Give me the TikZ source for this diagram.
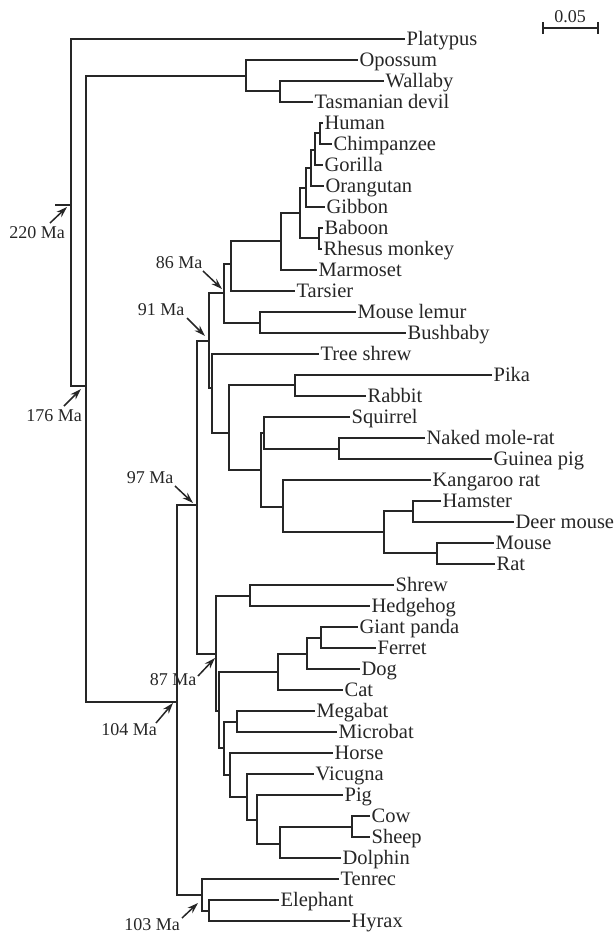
\documentclass[tikz,border=0pt]{standalone}
\usepackage{fontspec}
\setmainfont{Liberation Serif}
\usepackage{tikz}
\usetikzlibrary{arrows.meta}
\definecolor{ink}{HTML}{262626}
\tikzstyle{leaf} = [anchor=west, inner xsep=0.6pt, inner ysep=0pt,
    text height=0.8em, text depth=0.15em, text=ink,
    font=\fontsize{10.25}{12}\selectfont]
\tikzstyle{branch} = [draw, ink, line width=1pt]
\tikzstyle{agelabel} = [inner sep=0pt, text=ink, font=\fontsize{9}{11}\selectfont]
\tikzstyle{pointer} = [draw, ink, line width=0.75pt, -{Stealth[length=5.5pt, width=3.6pt]}]

\begin{document}
\begin{tikzpicture}[x=0.5pt, y=-0.5pt]
    \useasboundingbox (0,0) rectangle (614,932);
    % Place leaves
    \node [leaf] (platypus) at (405,39) {Platypus};
    \node [leaf] (opossum) at (358,60) {Opossum};
    \node [leaf] (wallaby) at (384,81) {Wallaby};
    \node [leaf] (tasdevil) at (313,102) {Tasmanian devil};
    \node [leaf] (human) at (323,123) {Human};
    \node [leaf] (chimp) at (332,144) {Chimpanzee};
    \node [leaf] (gorilla) at (323,165) {Gorilla};
    \node [leaf] (orangutan) at (324,186) {Orangutan};
    \node [leaf] (gibbon) at (325,207) {Gibbon};
    \node [leaf] (baboon) at (323,228) {Baboon};
    \node [leaf] (rhesus) at (322,249) {Rhesus monkey};
    \node [leaf] (marmoset) at (317,270) {Marmoset};
    \node [leaf] (tarsier) at (295,291) {Tarsier};
    \node [leaf] (mlemur) at (356,312) {Mouse lemur};
    \node [leaf] (bushbaby) at (406,333) {Bushbaby};
    \node [leaf] (treeshrew) at (319,354) {Tree shrew};
    \node [leaf] (pika) at (492,375) {Pika};
    \node [leaf] (rabbit) at (366,396) {Rabbit};
    \node [leaf] (squirrel) at (350,417) {Squirrel};
    \node [leaf] (molerat) at (425,438) {Naked mole-rat};
    \node [leaf] (guineapig) at (492,459) {Guinea pig};
    \node [leaf] (kangrat) at (431,480) {Kangaroo rat};
    \node [leaf] (hamster) at (441,501) {Hamster};
    \node [leaf] (deermouse) at (514,522) {Deer mouse};
    \node [leaf] (mouse) at (494,543) {Mouse};
    \node [leaf] (rat) at (495,564) {Rat};
    \node [leaf] (shrew) at (394,585) {Shrew};
    \node [leaf] (hedgehog) at (370,606) {Hedgehog};
    \node [leaf] (panda) at (358,627) {Giant panda};
    \node [leaf] (ferret) at (376,648) {Ferret};
    \node [leaf] (dog) at (360,669) {Dog};
    \node [leaf] (cat) at (343,690) {Cat};
    \node [leaf] (megabat) at (315,711) {Megabat};
    \node [leaf] (microbat) at (337,732) {Microbat};
    \node [leaf] (horse) at (333,753) {Horse};
    \node [leaf] (vicugna) at (314,774) {Vicugna};
    \node [leaf] (pig) at (343,795) {Pig};
    \node [leaf] (cow) at (370,816) {Cow};
    \node [leaf] (sheep) at (370,837) {Sheep};
    \node [leaf] (dolphin) at (341,858) {Dolphin};
    \node [leaf] (tenrec) at (339,879) {Tenrec};
    \node [leaf] (elephant) at (279,900) {Elephant};
    \node [leaf] (hyrax) at (350,921) {Hyrax};
    % Place inner nodes
    \coordinate (stem) at (55,205);
    \coordinate (root) at (71,205);
    \coordinate (theria) at (86,386);
    \coordinate (marsup) at (246,76);
    \coordinate (ausmar) at (280,91);
    \coordinate (placent) at (177,702);
    \coordinate (boreo) at (197,505);
    \coordinate (euarch) at (209,341);
    \coordinate (primates) at (224,293);
    \coordinate (haplo) at (231,264);
    \coordinate (anthro) at (281,241);
    \coordinate (catar) at (300,213);
    \coordinate (homin) at (306,188);
    \coordinate (apes) at (311,168);
    \coordinate (hcg) at (315,150);
    \coordinate (hc) at (320,133);
    \coordinate (owm) at (319,238);
    \coordinate (strep) at (260,323);
    \coordinate (eutree) at (212,388);
    \coordinate (glires) at (229,433);
    \coordinate (lago) at (295,385);
    \coordinate (rodent) at (261,470);
    \coordinate (sqhy) at (264,433);
    \coordinate (hystr) at (339,449);
    \coordinate (myo) at (283,507);
    \coordinate (muroid) at (384,532);
    \coordinate (cricet) at (413,511);
    \coordinate (murid) at (437,553);
    \coordinate (laura) at (216,654);
    \coordinate (eulip) at (250,596);
    \coordinate (scrot) at (219,711);
    \coordinate (carn) at (278,672);
    \coordinate (canif) at (307,654);
    \coordinate (mustel) at (321,638);
    \coordinate (ferung) at (224,748);
    \coordinate (bats) at (237,722);
    \coordinate (euung) at (230,775);
    \coordinate (cetart) at (247,797);
    \coordinate (artio) at (257,820);
    \coordinate (whippo) at (280,844);
    \coordinate (rumin) at (352,827);
    \coordinate (afro) at (202,895);
    \coordinate (paen) at (209,911);
    % Draw branches
    \path [branch] (stem) -- (root);
    \path [branch] (root) |- (platypus.west);
    \path [branch] (root) |- (theria);
    \path [branch] (theria) |- (marsup);
    \path [branch] (theria) |- (placent);
    \path [branch] (marsup) |- (opossum.west);
    \path [branch] (marsup) |- (ausmar);
    \path [branch] (ausmar) |- (wallaby.west);
    \path [branch] (ausmar) |- (tasdevil.west);
    \path [branch] (placent) |- (boreo);
    \path [branch] (placent) |- (afro);
    \path [branch] (boreo) |- (euarch);
    \path [branch] (boreo) |- (laura);
    \path [branch] (euarch) |- (primates);
    \path [branch] (euarch) |- (eutree);
    \path [branch] (primates) |- (haplo);
    \path [branch] (primates) |- (strep);
    \path [branch] (haplo) |- (anthro);
    \path [branch] (haplo) |- (tarsier.west);
    \path [branch] (anthro) |- (catar);
    \path [branch] (anthro) |- (marmoset.west);
    \path [branch] (catar) |- (homin);
    \path [branch] (catar) |- (owm);
    \path [branch] (homin) |- (apes);
    \path [branch] (homin) |- (gibbon.west);
    \path [branch] (apes) |- (hcg);
    \path [branch] (apes) |- (orangutan.west);
    \path [branch] (hcg) |- (hc);
    \path [branch] (hcg) |- (gorilla.west);
    \path [branch] (hc) |- (human.west);
    \path [branch] (hc) |- (chimp.west);
    \path [branch] (owm) |- (baboon.west);
    \path [branch] (owm) |- (rhesus.west);
    \path [branch] (strep) |- (mlemur.west);
    \path [branch] (strep) |- (bushbaby.west);
    \path [branch] (eutree) |- (treeshrew.west);
    \path [branch] (eutree) |- (glires);
    \path [branch] (glires) |- (lago);
    \path [branch] (glires) |- (rodent);
    \path [branch] (lago) |- (pika.west);
    \path [branch] (lago) |- (rabbit.west);
    \path [branch] (rodent) |- (sqhy);
    \path [branch] (rodent) |- (myo);
    \path [branch] (sqhy) |- (squirrel.west);
    \path [branch] (sqhy) |- (hystr);
    \path [branch] (hystr) |- (molerat.west);
    \path [branch] (hystr) |- (guineapig.west);
    \path [branch] (myo) |- (kangrat.west);
    \path [branch] (myo) |- (muroid);
    \path [branch] (muroid) |- (cricet);
    \path [branch] (muroid) |- (murid);
    \path [branch] (cricet) |- (hamster.west);
    \path [branch] (cricet) |- (deermouse.west);
    \path [branch] (murid) |- (mouse.west);
    \path [branch] (murid) |- (rat.west);
    \path [branch] (laura) |- (eulip);
    \path [branch] (laura) |- (scrot);
    \path [branch] (eulip) |- (shrew.west);
    \path [branch] (eulip) |- (hedgehog.west);
    \path [branch] (scrot) |- (carn);
    \path [branch] (scrot) |- (ferung);
    \path [branch] (carn) |- (canif);
    \path [branch] (carn) |- (cat.west);
    \path [branch] (canif) |- (mustel);
    \path [branch] (canif) |- (dog.west);
    \path [branch] (mustel) |- (panda.west);
    \path [branch] (mustel) |- (ferret.west);
    \path [branch] (ferung) |- (bats);
    \path [branch] (ferung) |- (euung);
    \path [branch] (bats) |- (megabat.west);
    \path [branch] (bats) |- (microbat.west);
    \path [branch] (euung) |- (horse.west);
    \path [branch] (euung) |- (cetart);
    \path [branch] (cetart) |- (vicugna.west);
    \path [branch] (cetart) |- (artio);
    \path [branch] (artio) |- (pig.west);
    \path [branch] (artio) |- (whippo);
    \path [branch] (whippo) |- (rumin);
    \path [branch] (whippo) |- (dolphin.west);
    \path [branch] (rumin) |- (cow.west);
    \path [branch] (rumin) |- (sheep.west);
    \path [branch] (afro) |- (tenrec.west);
    \path [branch] (afro) |- (paen);
    \path [branch] (paen) |- (elephant.west);
    \path [branch] (paen) |- (hyrax.west);
    % Divergence times
    \node [agelabel] (ma220) at (37,233) {220 Ma};
    \node [agelabel] (ma176) at (54,416) {176 Ma};
    \node [agelabel] (ma86) at (179,263) {86 Ma};
    \node [agelabel] (ma91) at (161,310) {91 Ma};
    \node [agelabel] (ma97) at (150,478) {97 Ma};
    \node [agelabel] (ma87) at (173,680) {87 Ma};
    \node [agelabel] (ma104) at (129,730) {104 Ma};
    \node [agelabel] (ma103) at (152,925) {103 Ma};
    \coordinate (t220) at (50,223);   \coordinate (h220) at (67,207);
    \coordinate (t176) at (64,406);   \coordinate (h176) at (81,389);
    \coordinate (t86) at (203,271);   \coordinate (h86) at (222,289);
    \coordinate (t91) at (187,318);   \coordinate (h91) at (205,336);
    \coordinate (t97) at (175,486);   \coordinate (h97) at (193,503);
    \coordinate (t87) at (198,676);   \coordinate (h87) at (215,658);
    \coordinate (t104) at (156,723);  \coordinate (h104) at (173,703);
    \coordinate (t103) at (182,918);  \coordinate (h103) at (198,903);
    \path [pointer] (t220) -- (h220);
    \path [pointer] (t176) -- (h176);
    \path [pointer] (t86) -- (h86);
    \path [pointer] (t91) -- (h91);
    \path [pointer] (t97) -- (h97);
    \path [pointer] (t87) -- (h87);
    \path [pointer] (t104) -- (h104);
    \path [pointer] (t103) -- (h103);
    % Scale bar
    \coordinate (barleft) at (542,28);
    \coordinate (barright) at (599,28);
    \path [draw, ink, line width=0.8pt, {Bar[width=6pt]}-{Bar[width=6pt]}] (barleft) -- (barright);
    \node [agelabel] (barlabel) at (570,17) {0.05};
\end{tikzpicture}
\end{document}
